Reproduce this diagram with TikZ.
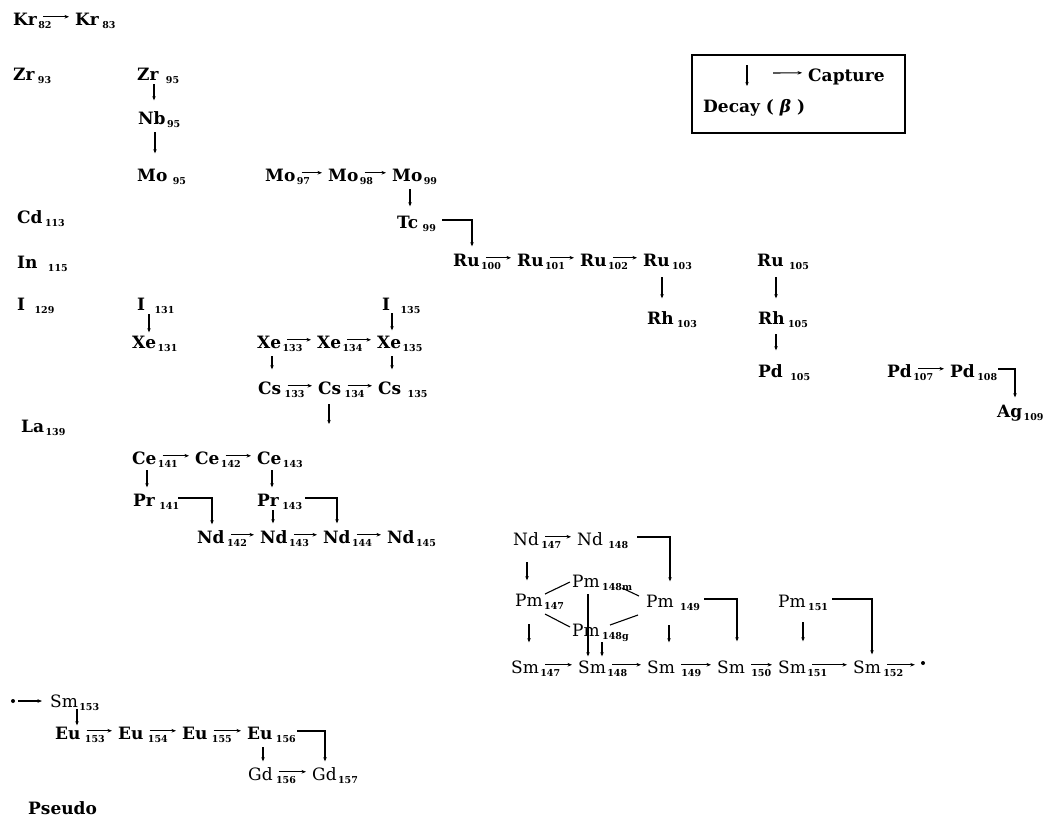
\documentclass[tikz,border=0pt]{standalone}
\usepackage{fontspec}
\setmainfont{DejaVu Serif}
\usetikzlibrary{arrows.meta}
\tikzset{
 el/.style={inner sep=0pt, anchor=base west, text height=12.5pt, text depth=0pt, font=\fontsize{17}{19}\selectfont\bfseries},
 elr/.style={el, font=\fontsize{17}{19}\selectfont},
 sb/.style={inner sep=0pt, anchor=base west, yshift=-3.5pt, font=\fontsize{9.5}{10}\selectfont\bfseries},
 harr/.style={-{Stealth[length=4.5pt,width=3.6pt]}, line width=1.1pt, shorten <=6pt, shorten >=6pt},
 varr/.style={-{Stealth[length=4pt,width=3.4pt]}, line width=1.1pt},
 plain/.style={line width=1.1pt},
 dotn/.style={circle, fill, inner sep=0pt, minimum size=4pt},
}
\newcommand\Nuc[7][el]{\node[#1] (#2) at (#3,#4) {#5};\node[sb] (#2s) at ([xshift=#7]#2.base east) {#6};}
\newcommand\Cap[2]{\draw[harr] ([yshift=2pt]#1.east) -- ([yshift=2pt]#2.west);}
\newcommand\Dec[5]{\draw[varr, shorten <=#4, shorten >=#5] ([xshift=#3]#1.base west) -- ([xshift=#3]#1.base west |- #2.north);}
\newcommand\Elb[5]{\draw[varr, shorten >=#5] ([shift={(#3,-8)}]#1.base west) -| ([xshift=#4]#2.base west |- #2.north);}
\begin{document}
\begin{tikzpicture}[x=1pt,y=-1pt]
\useasboundingbox (0,0) rectangle (1046,825);
% nuclides
\Nuc{Kr82}{13}{25}{Kr}{82}{1pt}
\Nuc{Kr83}{75}{25}{Kr}{83}{3pt}
\Nuc{Zr93}{13}{80}{Zr}{93}{3pt}
\Nuc{Zr95}{137}{80}{Zr}{95}{7pt}
\Nuc{Nb95}{138}{124}{Nb}{95}{1pt}
\Nuc{Mo95}{137}{181}{Mo}{95}{5pt}
\Nuc{Mo97}{265}{181}{Mo}{97}{1pt}
\Nuc{Mo98}{328}{181}{Mo}{98}{1pt}
\Nuc{Mo99}{392}{181}{Mo}{99}{1pt}
\Nuc{Cd113}{17}{223}{Cd}{113}{2pt}
\Nuc{Tc99}{397}{228}{Tc}{99}{4pt}
\Nuc{Ru100}{453}{266}{Ru}{100}{1pt}
\Nuc{Ru101}{517}{266}{Ru}{101}{1pt}
\Nuc{Ru102}{580}{266}{Ru}{102}{1pt}
\Nuc{Ru103}{643}{266}{Ru}{103}{2pt}
\Nuc{Ru105}{757}{266}{Ru}{105}{5pt}
\Nuc{In115}{17}{268}{In}{115}{10pt}
\Nuc{I129}{17}{310}{I}{129}{9pt}
\Nuc{I131}{137}{310}{I}{131}{9pt}
\Nuc{I135}{382}{310}{I}{135}{10pt}
\Nuc{Rh103}{647}{324}{Rh}{103}{3pt}
\Nuc{Rh105}{758}{324}{Rh}{105}{3pt}
\Nuc{Xe131}{132}{348}{Xe}{131}{1pt}
\Nuc{Xe133}{257}{348}{Xe}{133}{1pt}
\Nuc{Xe134}{317}{348}{Xe}{134}{1pt}
\Nuc{Xe135}{377}{348}{Xe}{135}{1pt}
\Nuc{Pd105}{758}{377}{Pd}{105}{7pt}
\Nuc{Pd107}{887}{377}{Pd}{107}{1pt}
\Nuc{Pd108}{950}{377}{Pd}{108}{2pt}
\Nuc{Cs133}{258}{394}{Cs}{133}{3pt}
\Nuc{Cs134}{318}{394}{Cs}{134}{3pt}
\Nuc{Cs135}{378}{394}{Cs}{135}{6pt}
\Nuc{Ag109}{997}{417}{Ag}{109}{1pt}
\Nuc{La139}{21}{432}{La}{139}{1pt}
\Nuc{Ce141}{132}{464}{Ce}{141}{1pt}
\Nuc{Ce142}{195}{464}{Ce}{142}{1pt}
\Nuc{Ce143}{257}{464}{Ce}{143}{1pt}
\Nuc{Pr141}{133}{506}{Pr}{141}{4pt}
\Nuc{Pr143}{257}{506}{Pr}{143}{3pt}
\Nuc{Nd142}{197}{543}{Nd}{142}{2pt}
\Nuc{Nd143}{260}{543}{Nd}{143}{1pt}
\Nuc{Nd144}{323}{543}{Nd}{144}{1pt}
\Nuc{Nd145}{387}{543}{Nd}{145}{1pt}
\Nuc[elr]{Nd147}{513}{545}{Nd}{147}{2pt}
\Nuc[elr]{Nd148}{577}{545}{Nd}{148}{5pt}
\Nuc[elr]{Pm148m}{572}{587}{Pm}{148m}{2pt}
\Nuc[elr]{Pm147}{515}{606}{Pm}{147}{1pt}
\Nuc[elr]{Pm149}{646}{607}{Pm}{149}{6pt}
\Nuc[elr]{Pm151}{778}{607}{Pm}{151}{2pt}
\Nuc[elr]{Pm148g}{572}{636}{Pm}{148g}{2pt}
\Nuc[elr]{Sm147}{511}{673}{Sm}{147}{1pt}
\Nuc[elr]{Sm148}{578}{673}{Sm}{148}{1pt}
\Nuc[elr]{Sm149}{647}{673}{Sm}{149}{6pt}
\Nuc[elr]{Sm150}{717}{673}{Sm}{150}{6pt}
\Nuc[elr]{Sm151}{778}{673}{Sm}{151}{1pt}
\Nuc[elr]{Sm152}{853}{673}{Sm}{152}{2pt}
\Nuc[elr]{Sm153}{50}{707}{Sm}{153}{1pt}
\Nuc{Eu153}{55}{739}{Eu}{153}{4pt}
\Nuc{Eu154}{118}{739}{Eu}{154}{4pt}
\Nuc{Eu155}{182}{739}{Eu}{155}{4pt}
\Nuc{Eu156}{247}{739}{Eu}{156}{3pt}
\Nuc[elr]{Gd156}{248}{780}{Gd}{156}{3pt}
\Nuc[elr]{Gd157}{312}{780}{Gd}{157}{1pt}
\node[el] (pseudo) at (28,814) {Pseudo};
\node[dotn] (dotA) at (923,663) {};
\node[dotn] (dotB) at (13,701) {};
% legend
\node[draw, line width=1.2pt, minimum width=213pt, minimum height=78pt, inner sep=0pt] (legend) at (798.5,94) {};
\node[el] (capt) at (808,81) {Capture};
\node[el] (decay) at (703,112) {Decay ( {\itshape β} )};
\coordinate (lva) at (747,65);
\coordinate (lvb) at (747,86);
\coordinate (lha) at (773,73);
\draw[varr] (lva) -- (lvb);
\draw[harr, shorten <=0pt] (lha) -- ([yshift=2pt]capt.west);
% captures
\Cap{Kr82}{Kr83}
\Cap{Mo97}{Mo98}\Cap{Mo98}{Mo99}
\Cap{Ru100}{Ru101}\Cap{Ru101}{Ru102}\Cap{Ru102}{Ru103}
\Cap{Pd107}{Pd108}
\Cap{Xe133}{Xe134}\Cap{Xe134}{Xe135}
\Cap{Cs133}{Cs134}\Cap{Cs134}{Cs135}
\Cap{Ce141}{Ce142}\Cap{Ce142}{Ce143}
\Cap{Nd142}{Nd143}\Cap{Nd143}{Nd144}\Cap{Nd144}{Nd145}
\Cap{Nd147}{Nd148}
\Cap{Sm147}{Sm148}\Cap{Sm148}{Sm149}\Cap{Sm149}{Sm150}\Cap{Sm150}{Sm151}\Cap{Sm151}{Sm152}
\Cap{Eu153}{Eu154}\Cap{Eu154}{Eu155}\Cap{Eu155}{Eu156}
\Cap{Gd156}{Gd157}
\draw[harr] ([yshift=2pt]Sm152.east) -- ([yshift=2pt]Sm152.east -| dotA.west);
\draw[harr, shorten <=3pt, shorten >=8pt] (dotB) -- (dotB -| Sm153.west);
% decays
\Dec{Zr95}{Nb95}{17pt}{4pt}{11pt}
\Dec{Nb95}{Mo95}{17pt}{8pt}{15pt}
\Dec{Mo99}{Tc99}{18pt}{8pt}{9pt}
\Dec{Ru103}{Rh103}{19pt}{11pt}{13pt}
\Dec{Ru105}{Rh105}{19pt}{11pt}{13pt}
\Dec{Rh105}{Pd105}{18pt}{10pt}{14pt}
\Dec{I131}{Xe131}{12pt}{4pt}{3pt}
\Dec{I135}{Xe135}{10pt}{3pt}{5pt}
\Dec{Xe133}{Cs133}{15pt}{8pt}{12pt}
\Dec{Xe135}{Cs135}{15pt}{8pt}{12pt}
\coordinate (csend) at (329,424);
\draw[varr, shorten <=10pt] ([xshift=11pt]Cs134.base west) -- ([xshift=11pt]Cs134.base west |- csend);
\Dec{Ce141}{Pr141}{15pt}{6pt}{6pt}
\Dec{Ce143}{Pr143}{15pt}{6pt}{6pt}
\Dec{Pr143}{Nd143}{16pt}{4pt}{7pt}
\Dec{Nd147}{Pm147}{14pt}{17pt}{13pt}
\Dec{Pm147}{Sm147}{14pt}{18pt}{18pt}
\Dec{Pm148m}{Sm148}{16pt}{7pt}{4pt}
\Dec{Pm148g}{Sm148}{30pt}{6pt}{4pt}
\Dec{Pm149}{Sm149}{23pt}{18pt}{18pt}
\Dec{Pm151}{Sm151}{25pt}{15pt}{19pt}
\Dec{Sm153}{Eu153}{27pt}{2pt}{1pt}
\Dec{Eu156}{Gd156}{16pt}{8pt}{6pt}
% elbows
\Elb{Tc99}{Ru100}{45}{19pt}{7pt}
\Elb{Pd108}{Ag109}{48}{18pt}{7pt}
\Elb{Pr141}{Nd142}{45}{15pt}{6pt}
\Elb{Pr143}{Nd144}{48}{14pt}{7pt}
\Elb{Nd148}{Pm149}{60}{24pt}{13pt}
\Elb{Pm149}{Sm150}{58}{20pt}{19pt}
\Elb{Pm151}{Sm152}{54}{19pt}{6pt}
\Elb{Eu156}{Gd157}{50}{13pt}{6pt}
% Pm isomer links
\draw[plain] ([shift={(30,-12)}]Pm147.base west) -- ([shift={(-2,-5)}]Pm148m.base west);
\draw[plain] ([shift={(30,8)}]Pm147.base west) -- ([shift={(-2,-9)}]Pm148g.base west);
\draw[plain] ([shift={(50,1)}]Pm148m.base west) -- ([shift={(-7,-11)}]Pm149.base west);
\draw[plain] ([shift={(38,-11)}]Pm148g.base west) -- ([shift={(-8,8)}]Pm149.base west);
\end{tikzpicture}
\end{document}
